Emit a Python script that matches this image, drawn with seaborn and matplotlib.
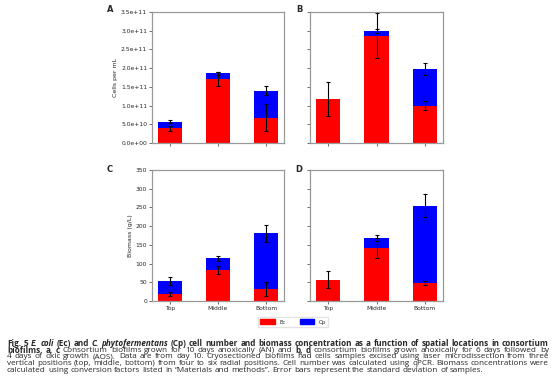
import numpy as np
import pandas as pd
import matplotlib
matplotlib.use("Agg")
import matplotlib.pyplot as plt
from matplotlib.patches import Patch
import seaborn as sns

# data
positions = ["Top", "Middle", "Bottom"]

# panel A (AN, cells per mL)
a_ec = [0.39e11, 1.71e11, 0.67e11]
a_cp = [0.18e11, 0.15e11, 0.72e11]
a_ec_err = [0.07e11, 0.20e11, 0.36e11]
a_cp_err = [0.04e11, 0.05e11, 0.12e11]

# panel B (AOS, cells per mL)
b_ec = [1.18e11, 2.87e11, 1.00e11]
b_cp = [0.0, 0.13e11, 0.99e11]
b_ec_err = [0.46e11, 0.59e11, 0.11e11]
b_cp_err = [0.0, 0.05e11, 0.16e11]

# panel C (AN, biomass g/L)
c_ec = [19, 83, 32]
c_cp = [35, 31, 149]
c_ec_err = [6, 10, 18]
c_cp_err = [11, 7, 23]

# panel D (AOS, biomass g/L)
d_ec = [57, 141, 48]
d_cp = [0, 27, 207]
d_ec_err = [23, 27, 6]
d_cp_err = [0, 8, 30]

W, H = 554, 386
sns.set_style("ticks")
plt.rcParams["font.family"] = ["DejaVu Sans"]
fig = plt.figure(figsize=(W / 100, H / 100), dpi=100)


def px_axes(left, top, right, bottom):
    return fig.add_axes([left / W, 1 - bottom / H, (right - left) / W, (bottom - top) / H])


def stacked(ax, ec, cp, ec_err, cp_err):
    df = pd.DataFrame({"pos": positions, "Ec": ec, "Cp": cp})
    df["total"] = df["Ec"] + df["Cp"]
    sns.barplot(data=df, x="pos", y="total", order=positions, color="blue",
                saturation=1, width=0.5, errorbar=None, linewidth=0, ax=ax)
    sns.barplot(data=df, x="pos", y="Ec", order=positions, color="red",
                saturation=1, width=0.5, errorbar=None, linewidth=0, ax=ax)
    x = np.arange(len(positions))
    ax.errorbar(x, df["Ec"], yerr=ec_err, fmt="none", ecolor="black",
                elinewidth=0.8, capsize=1.3, capthick=0.8)
    cp_mask = np.array(cp_err) > 0
    ax.errorbar(x[cp_mask], df["total"][cp_mask], yerr=np.array(cp_err)[cp_mask],
                fmt="none", ecolor="black", elinewidth=0.8, capsize=1.3, capthick=0.8)
    ax.set_xlim(-0.375, 2.375)
    ax.set_xlabel("")
    ax.set_ylabel("")
    for s in ax.spines.values():
        s.set_visible(True)
        s.set_color("#999999")
        s.set_linewidth(0.9)
    ax.tick_params(labelsize=4.3, length=2, width=0.6, color="#555555", pad=1.5)


axA = px_axes(152, 12, 284, 143)
axB = px_axes(310, 12, 443, 143)
axC = px_axes(152, 170, 284, 301)
axD = px_axes(310, 170, 443, 301)

stacked(axA, a_ec, a_cp, a_ec_err, a_cp_err)
stacked(axB, b_ec, b_cp, b_ec_err, b_cp_err)
stacked(axC, c_ec, c_cp, c_ec_err, c_cp_err)
stacked(axD, d_ec, d_cp, d_ec_err, d_cp_err)

cell_ticks = np.arange(0, 3.51e11, 0.5e11)
for ax in (axA, axB):
    ax.set_ylim(0, 3.5e11)
    ax.set_yticks(cell_ticks)
    ax.set_xticklabels([])
axA.set_yticklabels(["%.1e" % v for v in cell_ticks])
axB.set_yticklabels([])

for ax in (axC, axD):
    ax.set_ylim(0, 350)
    ax.set_yticks(np.arange(0, 351, 50))
axD.set_yticklabels([])

axA.set_ylabel("Cells per mL", fontsize=4.5, labelpad=2)
axC.set_ylabel("Biomass (g/L)", fontsize=4.5, labelpad=2)

for lab, x, y in [("A", 110, 10), ("B", 299, 10), ("C", 110, 169), ("D", 299, 169)]:
    fig.text(x / W, 1 - y / H, lab, fontsize=6, fontweight="bold", ha="center", va="center")

fig.legend(handles=[Patch(color="red", label="Ec"), Patch(color="blue", label="Cp")],
           ncol=2, loc="center", bbox_to_anchor=(293 / W, 1 - 322 / H), fontsize=4,
           handlelength=2.6, handleheight=0.9, columnspacing=2.5, frameon=True,
           edgecolor="#dddddd", fancybox=False, borderpad=0.5)

# caption, written word by word so it can be justified
B, BI, N = ("bold", "normal"), ("bold", "italic"), ("normal", "normal")
caption = [
    [("Fig. 5", B), ("E. coli", BI), ("(Ec) and", B), ("C. phytofermentans", BI),
     ("(Cp) cell number and biomass concentration as a function of spatial locations in consortium", B)],
    [("biofilms. a, c", B), ("Consortium biofilms grown for 10 days anoxically (AN) and", N),
     ("b, d", B), ("consortium biofilms grown anoxically for 6 days followed by", N)],
    [("4 days of oxic growth (AOS). Data are from day 10. Cryosectioned biofilms had cells samples "
      "excised using laser microdissection from three", N)],
    [("vertical positions (top, middle, bottom) from four to six radial positions. Cell number was "
      "calculated using qPCR. Biomass concentrations were", N)],
    [("calculated using conversion factors listed in \u201cMaterials and methods\u201d. Error bars "
      "represent the standard deviation of samples.", N)],
]
line_y = [343.5, 350.2, 356.8, 363.4, 370.0]
x0, x1 = 7, 549
cap_family = ["Open Sans", "DejaVu Sans"]
renderer = fig.canvas.get_renderer()


def words_of(line):
    out = []
    for text, (wt, st) in line:
        for w in text.split(" "):
            if w:
                out.append((w, wt, st))
    return out


def width(s, fs, wt, st):
    t = fig.text(0, 0, s, fontsize=fs, fontweight=wt, fontstyle=st, family=cap_family)
    w = t.get_window_extent(renderer).width
    t.remove()
    return w


def space_w(fs):
    return width("a a", fs, "normal", "normal") - 2 * width("a", fs, "normal", "normal")


# largest font size where every line fits with normal word spacing
probe = 6.0
sp = space_w(probe)
fits = []
for i, line in enumerate(caption):
    ws = words_of(line)
    nat = sum(width(w, probe, wt, st) for w, wt, st in ws) + (len(ws) - 1) * sp
    target = (488 - x0) if i == len(caption) - 1 else (x1 - x0)
    fits.append(probe * target / nat)
fs = min(fits)
space = space_w(fs)

for i, line in enumerate(caption):
    ws = words_of(line)
    wl = [width(w, fs, wt, st) for w, wt, st in ws]
    if i < len(caption) - 1:
        gap = (x1 - x0 - sum(wl)) / (len(ws) - 1)
    else:
        gap = space
    x = x0
    for (w, wt, st), wpx in zip(ws, wl):
        fig.text(x / W, 1 - line_y[i] / H, w, fontsize=fs, fontweight=wt, fontstyle=st,
                 family=cap_family, va="center", ha="left")
        x += wpx + gap

fig.savefig("out.png", dpi=100)
